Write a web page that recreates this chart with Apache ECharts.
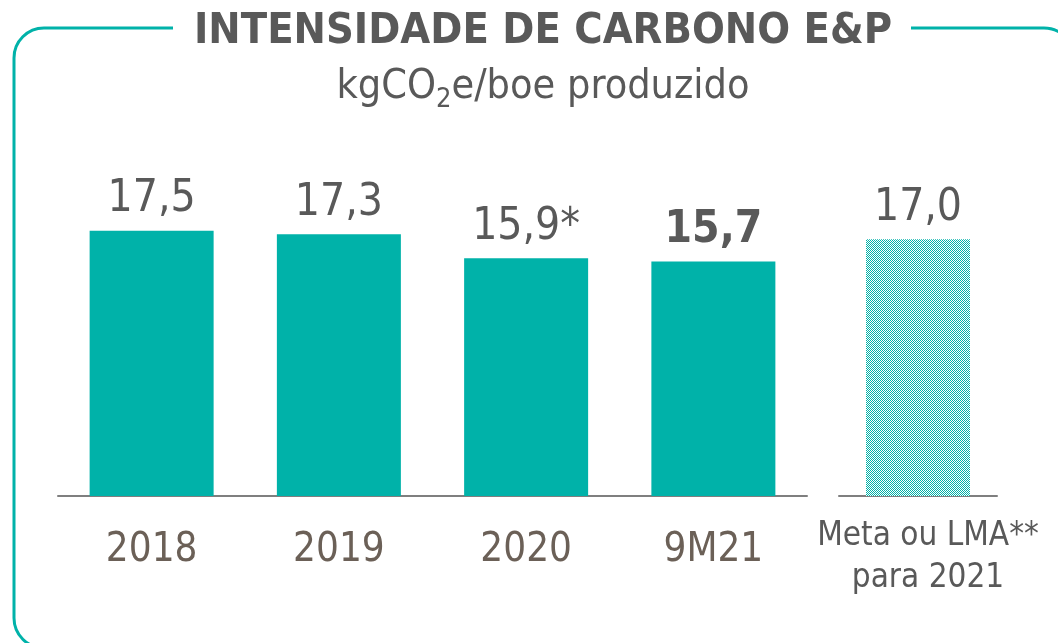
<!DOCTYPE html>
<html>
<head>
<meta charset="utf-8">
<script src="https://cdn.jsdelivr.net/npm/echarts@6/dist/echarts.min.js"></script>
<style>
html,body{margin:0;padding:0;background:#fff;}
#chart{width:1058px;height:643px;}
</style>
</head>
<body>
<div id="chart"></div>
<script>
// ---- data ----
var categories = ['2018', '2019', '2020', '9M21'];
var values = [17.5, 17.3, 15.9, 15.7];
var valueLabels = ['17,5', '17,3', '15,9*', '15,7'];
var targetCategory = ['Meta ou LMA**\npara 2021'];
var targetValue = [17.0];
var targetLabel = ['17,0'];
var titleText = 'INTENSIDADE DE CARBONO E&P';

var FONT = '"DejaVu Sans Condensed", "DejaVu Sans", sans-serif';
var TEAL = '#00b2a9';
var GREY = '#595959';
var BROWN = '#6b6057';

// checker pattern for target bar
var pc = document.createElement('canvas');
pc.width = 2; pc.height = 2;
var pctx = pc.getContext('2d');
pctx.fillStyle = '#ffffff'; pctx.fillRect(0, 0, 2, 2);
pctx.fillStyle = TEAL; pctx.fillRect(0, 0, 1, 1); pctx.fillRect(1, 1, 1, 1);

var chart = echarts.init(document.getElementById('chart'));

var mainData = values.map(function (v, i) {
  return {
    value: v,
    label: { formatter: valueLabels[i], fontWeight: i === 3 ? 'bold' : 'normal' }
  };
});
var targetData = targetValue.map(function (v, i) {
  return { value: v, label: { formatter: targetLabel[i] } };
});

var yCommon = { type: 'value', min: 2, max: 20, show: false, splitLine: { show: false } };
var labelCommon = { show: true, position: 'top', distance: 9, color: GREY, fontSize: 44, fontFamily: FONT };

chart.setOption({
  animation: false,
  grid: [
    { left: 58, width: 749, top: 188, bottom: 147 },
    { left: 839, width: 158, top: 188, bottom: 147 }
  ],
  xAxis: [
    {
      type: 'category', gridIndex: 0, data: categories,
      axisLine: { lineStyle: { color: '#7f7f7f', width: 2 } },
      axisTick: { show: false },
      axisLabel: { color: BROWN, fontSize: 40, fontFamily: FONT, margin: 35 }
    },
    {
      type: 'category', gridIndex: 1, data: targetCategory,
      axisLine: { lineStyle: { color: '#7f7f7f', width: 2 } },
      axisTick: { show: false },
      axisLabel: { color: GREY, fontSize: 33, lineHeight: 42, fontFamily: FONT, margin: 19, padding: [0, 0, 0, 20], interval: 0 }
    }
  ],
  yAxis: [
    Object.assign({ gridIndex: 0 }, yCommon),
    Object.assign({ gridIndex: 1 }, yCommon)
  ],
  series: [
    {
      type: 'bar', xAxisIndex: 0, yAxisIndex: 0, data: mainData, barWidth: 124,
      itemStyle: { color: TEAL }, label: labelCommon
    },
    {
      type: 'bar', xAxisIndex: 1, yAxisIndex: 1, data: targetData, barWidth: 104,
      itemStyle: { color: { image: pc, repeat: 'repeat' } }, label: labelCommon
    }
  ],
  graphic: [
    {
      type: 'rect', z: 0, silent: true,
      shape: { x: 14, y: 28, width: 1060, height: 620, r: 30 },
      style: { fill: 'none', stroke: TEAL, lineWidth: 3 }
    },
    {
      type: 'rect', z: 1, silent: true,
      shape: { x: 173, y: 8, width: 738, height: 44 },
      style: { fill: '#ffffff' }
    },
    {
      type: 'text', z: 2, x: 543, y: 32,
      style: {
        text: titleText, fill: GREY, font: 'bold 43px ' + FONT,
        textAlign: 'center', textVerticalAlign: 'middle'
      }
    },
    {
      type: 'text', z: 2, x: 543, y: 87,
      style: {
        text: '{a|kgCO}{s|2}{a|e/boe produzido}',
        textAlign: 'center', textVerticalAlign: 'middle',
        rich: {
          a: { fontSize: 41, fontFamily: FONT, fill: GREY, color: GREY, lineHeight: 52 },
          s: { fontSize: 27, fontFamily: FONT, fill: GREY, color: GREY, lineHeight: 52, verticalAlign: 'bottom' }
        }
      }
    }
  ]
});
</script>
</body>
</html>
